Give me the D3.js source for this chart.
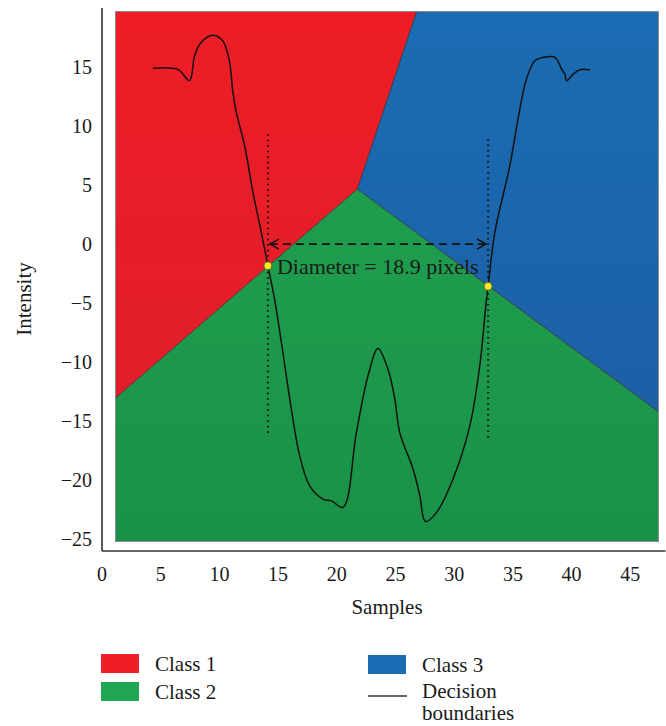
<!DOCTYPE html>
<html><head><meta charset="utf-8">
<script src="https://cdn.jsdelivr.net/npm/d3@7"></script>
<style>body{margin:0;background:#fff}svg{display:block}text{font-family:"Liberation Serif","Times New Roman",serif;fill:#1a1a1a}</style>
</head><body><svg id="c" width="666" height="726"></svg>
<script>
// ---- data ----
const xTicks = [0,5,10,15,20,25,30,35,40,45];
const yTicks = [15,10,5,0,-5,-10,-15,-20,-25];
const sampleX = [4.33,6.46,7.46,7.89,8.46,9.45,10.3,10.87,11.15,11.44,12.15,12.86,13.57,14.13,14.7,15.28,16.13,16.84,17.69,18.82,19.54,20.53,21.67,22.66,23.51,24.36,24.94,25.36,26.5,27.07,27.55,28.49,29.9,31.33,32.18,32.75,32.89,33.46,34.74,35.59,36.16,36.87,37.58,38.58,39.15,39.43,39.57,40.14,40.7,41.56];
const intensity = [14.9,14.8,13.85,15.96,17.1,17.7,17.2,15.4,12.85,11.16,8.33,4.38,0.99,-1.84,-4.66,-8.33,-13.98,-17.94,-20.48,-21.6,-21.75,-22.3,-15.96,-11.16,-8.84,-10.6,-13.1,-15.96,-19.07,-21.3,-23.5,-22.75,-19.9,-15.4,-10.3,-4.66,-3.58,0.99,6.64,11.44,13.98,15.53,15.82,15.82,14.83,14.4,13.84,14.4,14.77,14.77];
// region extent and decision boundary vertices (data units)
const regionX = [1.15, 47.4];
const regionY = [-25.2, 19.7];
const triplePoint = [21.75, 4.66];
const redBlueTopX = 26.8;
const redGreenLeftY = -13.05;
const greenBlueRightY = -14.2;
const crossings = [[14.13,-1.84],[32.89,-3.58]];
const guideY = [[9.3,-16.1],[8.9,-16.4]];
const arrowY = 0;
const diameterLabel = "Diameter = 18.9 pixels";
const classes = ["Class 1","Class 2","Class 3"];
const classColors = {"Class 1":["#ee1d26","#dc1f2b"],"Class 2":["#22a552","#1a9148"],"Class 3":["#1a6cb2","#1d5ca2"]};

const svg = d3.select("#c");
const x = d3.scaleLinear().domain([0,48]).range([102,665.5]);
const y = d3.scaleLinear().domain([-26,20]).range([551,8]);

// gradients
const defs = svg.append("defs");
classes.forEach((c,i)=>{
  const g = defs.append("linearGradient").attr("id","g"+i).attr("gradientUnits","userSpaceOnUse")
    .attr("x1",0).attr("x2",0).attr("y1",y(regionY[1])).attr("y2",y(regionY[0]));
  g.append("stop").attr("offset","0%").attr("stop-color",classColors[c][0]);
  g.append("stop").attr("offset","100%").attr("stop-color",classColors[c][1]);
});

const L=regionX[0],R=regionX[1],B=regionY[0],T=regionY[1];
const polys = [
  [[L,T],[redBlueTopX,T],triplePoint,[L,redGreenLeftY]],
  [triplePoint,[R,greenBlueRightY],[R,B],[L,B],[L,redGreenLeftY]],
  [[redBlueTopX,T],[R,T],[R,greenBlueRightY],triplePoint]
];
const line = d3.line().x(d=>x(d[0])).y(d=>y(d[1]));
polys.forEach((p,i)=>{
  svg.append("path").attr("d",line(p)+"Z").attr("fill",`url(#g${i})`);
});
// boundaries
[[[L,redGreenLeftY],triplePoint,[R,greenBlueRightY]],[triplePoint,[redBlueTopX,T]]].forEach(b=>{
  svg.append("path").attr("d",line(b)).attr("fill","none").attr("stroke","#2b2b2b").attr("stroke-width",1).attr("opacity",0.8);
});
svg.append("rect").attr("x",x(L)).attr("y",y(T)).attr("width",x(R)-x(L)).attr("height",y(B)-y(T))
  .attr("fill","none").attr("stroke","#8a8a8a").attr("stroke-width",1);

// axes lines
svg.append("line").attr("x1",x(0)).attr("x2",x(0)).attr("y1",y(20)).attr("y2",y(-26)).attr("stroke","#333").attr("stroke-width",1.6);
svg.append("line").attr("x1",x(0)).attr("x2",x(48)).attr("y1",y(-26)).attr("y2",y(-26)).attr("stroke","#333").attr("stroke-width",1.6);

// tick labels
const fmt = d => d<0 ? "\u2212"+Math.abs(d) : String(d);
svg.append("g").selectAll("text").data(yTicks).join("text")
  .attr("x",92).attr("y",d=>y(d)).attr("dy","0.35em").attr("text-anchor","end")
  .attr("font-size",20).text(fmt);
svg.append("g").selectAll("text").data(xTicks).join("text")
  .attr("x",d=>x(d)).attr("y",581).attr("text-anchor","middle")
  .attr("font-size",20).text(fmt);
svg.append("text").attr("x",387).attr("y",614).attr("text-anchor","middle").attr("font-size",21).text("Samples");
svg.append("text").attr("transform","translate(31,299) rotate(-90)").attr("text-anchor","middle").attr("font-size",21).text("Intensity");

// guides
guideY.forEach((g,i)=>{
  svg.append("line").attr("x1",x(crossings[i][0])).attr("x2",x(crossings[i][0]))
    .attr("y1",y(g[0])).attr("y2",y(g[1])).attr("stroke","#111").attr("stroke-width",2).attr("stroke-dasharray","1.5,4");
});
// arrow
const ax1 = x(crossings[0][0])+2, ax2 = x(crossings[1][0])-2, ay = y(arrowY);
svg.append("line").attr("x1",ax1).attr("x2",ax2).attr("y1",ay).attr("y2",ay)
  .attr("stroke","#111").attr("stroke-width",1.6).attr("stroke-dasharray","8,5");
svg.append("path").attr("d",`M${ax1+9},${ay-5}L${ax1},${ay}L${ax1+9},${ay+5}`).attr("fill","none").attr("stroke","#111").attr("stroke-width",1.5);
svg.append("path").attr("d",`M${ax2-9},${ay-5}L${ax2},${ay}L${ax2-9},${ay+5}`).attr("fill","none").attr("stroke","#111").attr("stroke-width",1.5);

// curve
const curve = d3.line().x(d=>x(d[0])).y(d=>y(d[1])).curve(d3.curveCatmullRom.alpha(0.5));
svg.append("path").attr("d",curve(sampleX.map((v,i)=>[v,intensity[i]])))
  .attr("fill","none").attr("stroke","#111").attr("stroke-width",1.5);

// crossing points
svg.selectAll("circle.pt").data(crossings).join("circle").attr("class","pt")
  .attr("cx",d=>x(d[0])).attr("cy",d=>y(d[1])).attr("r",4)
  .attr("fill","#f2ea2a").attr("stroke","#6b6a20").attr("stroke-width",1);

svg.append("text").attr("x",x(crossings[0][0])+9).attr("y",274).attr("font-size",22).attr("fill","#111").text(diameterLabel);

// legend
const leg = [
  {label:"Class 1",i:0,sx:101,sy:654},
  {label:"Class 2",i:1,sx:101,sy:682},
  {label:"Class 3",i:2,sx:368,sy:655}
];
leg.forEach(l=>{
  svg.append("rect").attr("x",l.sx).attr("y",l.sy).attr("width",38).attr("height",19).attr("fill",classColors[l.label][0]);
  svg.append("text").attr("x",l.sx+54).attr("y",l.sy+17).attr("font-size",21).text(l.label);
});
svg.append("line").attr("x1",368).attr("x2",407).attr("y1",696).attr("y2",696).attr("stroke","#333").attr("stroke-width",1.5);
svg.append("text").attr("x",422).attr("y",698).attr("font-size",21).text("Decision");
svg.append("text").attr("x",422).attr("y",720).attr("font-size",21).text("boundaries");
</script></body></html>
